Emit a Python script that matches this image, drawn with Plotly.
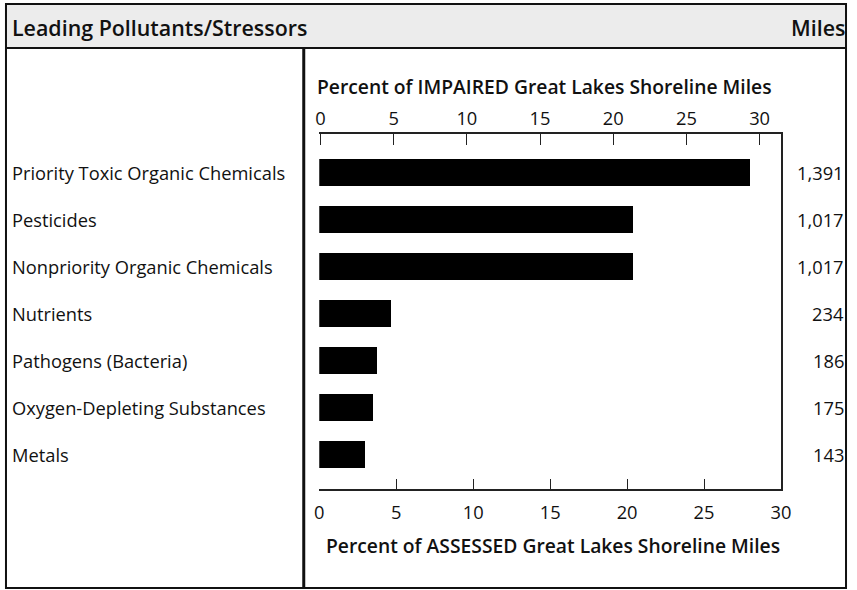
import plotly.graph_objects as go

# ---- data ----
categories = [
    "Priority Toxic Organic Chemicals",
    "Pesticides",
    "Nonpriority Organic Chemicals",
    "Nutrients",
    "Pathogens (Bacteria)",
    "Oxygen-Depleting Substances",
    "Metals",
]
assessed_pct = [28.0, 20.4, 20.4, 4.7, 3.75, 3.5, 3.0]
miles = [1391, 1017, 1017, 234, 186, 175, 143]
tick_vals = [0, 5, 10, 15, 20, 25, 30]
tick_text = ["0", "5", "10", "15", "20", "25", "30"]

W, H = 857, 590
FONT = "Open Sans"
# horizontal compensation for the slight horizontal squeeze seen in the capture
SQ, SHIFT = 0.982, 5.4


def px(x):
    """target screen x pixel -> paper fraction"""
    xd = (x - SHIFT) / SQ
    return min(max(xd / W, 0), 1)


def py(y):
    return 1 - y / H


fig = go.Figure()

fig.add_trace(go.Bar(
    x=assessed_pct, y=categories, orientation="h",
    marker=dict(color="black", line=dict(width=0)),
    width=0.574, showlegend=False, hoverinfo="x+y",
))
# invisible trace so the top (impaired) axis is drawn
fig.add_trace(go.Scatter(
    x=[None], y=[categories[0]], xaxis="x2", yaxis="y",
    mode="markers", showlegend=False, hoverinfo="skip",
))

axis_font = dict(family=FONT, size=18.3, color="#111")
title_font = dict(family=FONT, size=19.3, color="#111", weight=600)
label_font = dict(family=FONT, size=18.3, color="#111")

fig.update_layout(
    width=W, height=H,
    margin=dict(l=0, r=0, t=0, b=0),
    paper_bgcolor="white", plot_bgcolor="white",
    bargap=0,
    xaxis=dict(
        domain=[px(319.5), px(781)], range=[0, 30], anchor="y", side="bottom",
        tickvals=tick_vals, ticktext=tick_text, ticks="inside", ticklen=10,
        tickcolor="#222", tickwidth=1.2, ticklabelstandoff=6,
        showline=True, linecolor="#222", linewidth=1.5,
        showgrid=False, zeroline=False, tickfont=axis_font,
    ),
    xaxis2=dict(
        overlaying="x", side="top", range=[-0.08, 31.46], anchor="y",
        tickvals=tick_vals, ticktext=tick_text, ticks="inside", ticklen=11,
        tickcolor="#222", tickwidth=1.2,
        showline=True, linecolor="#222", linewidth=1.5,
        showgrid=False, zeroline=False, tickfont=axis_font,
    ),
    yaxis=dict(
        domain=[py(489), py(134)], type="category",
        categoryorder="array", categoryarray=categories,
        range=[6.734, -0.819], side="right", anchor="x",
        showline=True, linecolor="#222", linewidth=1.5,
        showticklabels=False, ticks="", showgrid=False, zeroline=False,
    ),
)

left_edge = 1 / W
right_edge = (W - 1) / W
shapes = [
    # header band
    dict(type="rect", xref="paper", yref="paper", x0=left_edge, x1=right_edge,
         y0=py(48), y1=py(4), fillcolor="#ececec", line=dict(width=0), layer="below"),
    # outer border
    dict(type="rect", xref="paper", yref="paper", x0=left_edge, x1=right_edge,
         y0=py(588), y1=py(4), line=dict(color="#111", width=2)),
    # header underline
    dict(type="line", xref="paper", yref="paper", x0=left_edge, x1=right_edge,
         y0=py(48), y1=py(48), line=dict(color="#111", width=2)),
    # column separator
    dict(type="line", xref="paper", yref="paper", x0=px(304), x1=px(304),
         y0=py(48), y1=py(588), line=dict(color="#111", width=3)),
]
fig.update_layout(shapes=shapes)

annotations = [
    dict(text="Leading Pollutants/Stressors", xref="paper", yref="paper",
         x=px(10), y=py(27), xanchor="left", yanchor="middle", showarrow=False,
         font=dict(family=FONT, size=21.4, color="#111", weight=600)),
    dict(text="Miles", xref="paper", yref="paper",
         x=px(849), y=py(27), xanchor="right", yanchor="middle", showarrow=False,
         font=dict(family=FONT, size=21.4, color="#111", weight=600)),
    dict(text="Percent of IMPAIRED Great Lakes Shoreline Miles", xref="paper",
         yref="paper", x=px(545), y=py(86), xanchor="center", yanchor="middle",
         showarrow=False, font=title_font),
    dict(text="Percent of ASSESSED Great Lakes Shoreline Miles", xref="paper",
         yref="paper", x=px(553), y=py(545), xanchor="center", yanchor="middle",
         showarrow=False, font=title_font),
]
for cat, m in zip(categories, miles):
    annotations.append(dict(
        text=cat, xref="paper", yref="y", x=px(10), y=cat,
        xanchor="left", yanchor="middle", showarrow=False, font=label_font))
    annotations.append(dict(
        text=f"{m:,}", xref="paper", yref="y", x=px(846), y=cat,
        xanchor="right", yanchor="middle", showarrow=False, font=label_font))
fig.update_layout(annotations=annotations)

fig.write_html(
    "out.html",
    config={"displayModeBar": False},
    post_script="document.body.style.margin='0';document.body.style.overflow='hidden';",
)
